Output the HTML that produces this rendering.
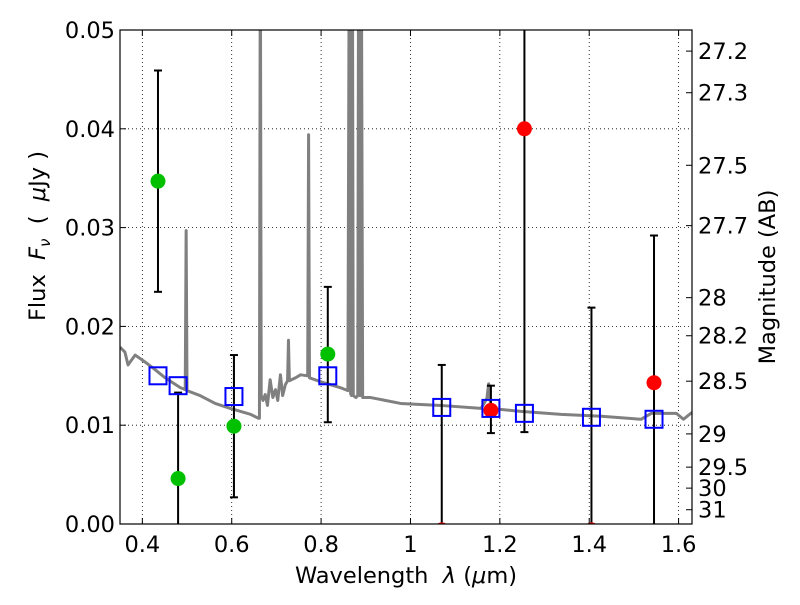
<!DOCTYPE html>
<html><head><meta charset="utf-8"><style>
body{margin:0;background:#fff}
svg text{font-family:"DejaVu Sans","Liberation Sans",sans-serif;fill:#000;white-space:pre}
</style></head><body>
<svg id="c" width="800" height="600" xmlns="http://www.w3.org/2000/svg"></svg>
<script>
const specWl=[0.35,0.361,0.368,0.384,0.406,0.429,0.451,0.485,0.496,0.498,0.500,0.529,0.563,0.597,0.642,0.660,0.662,0.664,0.666,0.670,0.675,0.680,0.686,0.692,0.698,0.703,0.709,0.714,0.720,0.725,0.727,0.729,0.743,0.754,0.770,0.772,0.774,0.799,0.843,0.860,0.863,0.866,0.868,0.870,0.872,0.878,0.882,0.884,0.887,0.890,0.893,0.911,0.978,1.068,1.158,1.171,1.175,1.180,1.247,1.337,1.427,1.516,1.539,1.595,1.611,1.63];
const specFlux=[0.0179,0.0174,0.0161,0.0171,0.0164,0.0156,0.0148,0.0138,0.0136,0.0297,0.0135,0.0130,0.0122,0.0117,0.0111,0.0107,0.0107,0.06,0.013,0.0125,0.0131,0.0120,0.0146,0.0128,0.0136,0.0125,0.0151,0.0130,0.0141,0.0145,0.0186,0.0145,0.0148,0.0151,0.0150,0.0394,0.0148,0.0144,0.0138,0.0135,0.06,0.0132,0.013,0.06,0.013,0.0128,0.013,0.06,0.013,0.06,0.0128,0.0128,0.0122,0.0120,0.0117,0.0127,0.0142,0.0117,0.0114,0.0111,0.0109,0.0106,0.0112,0.0112,0.0106,0.0113];
const greenWl=[0.435,0.48,0.605,0.815];
const greenFlux=[0.0347,0.0046,0.0099,0.0172];
const greenLo=[0.0235,-0.01,0.0027,0.0103];
const greenHi=[0.0459,0.0133,0.0171,0.0240];
const redWl=[1.07,1.18,1.255,1.405,1.545];
const redFlux=[-0.0006,0.0115,0.040,-0.0006,0.0143];
const redLo=[-0.01,0.0092,0.0093,-0.01,-0.01];
const redHi=[0.0161,0.0140,0.06,0.0219,0.0292];
const modelWl=[0.435,0.48,0.605,0.815,1.07,1.18,1.255,1.405,1.545];
const modelFlux=[0.0150,0.0140,0.0129,0.0150,0.0118,0.0117,0.0112,0.0108,0.0106];
const xTicks=[0.4,0.6,0.8,1.0,1.2,1.4,1.6];
const xTickLabels=["0.4","0.6","0.8","1","1.2","1.4","1.6"];
const yTicks=[0,0.01,0.02,0.03,0.04,0.05];
const yTickLabels=["0.00","0.01","0.02","0.03","0.04","0.05"];
const magTicks=[27.2,27.3,27.5,27.7,28,28.2,28.5,29,29.5,30,31];

const L=120,R=692,T=30,B=524,X0=0.35,X1=1.63,Y0=0,Y1=0.05;
const sx=v=>L+(v-X0)/(X1-X0)*(R-L);
const sy=v=>B-(v-Y0)/(Y1-Y0)*(B-T);
const svg=document.getElementById('c');
const NS='http://www.w3.org/2000/svg';
function mk(tag,at,parent){const e=document.createElementNS(NS,tag);for(const k in at)e.setAttribute(k,at[k]);(parent||svg).appendChild(e);return e;}

const defs=mk('defs',{});const cp=mk('clipPath',{id:'clip'},defs);mk('rect',{x:L,y:T,width:R-L,height:B-T},cp);

xTicks.forEach(v=>{const g=mk('line',{x1:sx(v),x2:sx(v),y1:T,y2:B,stroke:'#000','stroke-width':0.8,'stroke-dasharray':'1,3'});

});
yTicks.forEach(v=>{const g=mk('line',{x1:L,x2:R,y1:sy(v),y2:sy(v),stroke:'#000','stroke-width':0.8,'stroke-dasharray':'1,3'});

});

const plot=mk('g',{'clip-path':'url(#clip)'});
const sp=mk('polyline',{points:specWl.map((w,i)=>sx(w)+','+sy(specFlux[i])).join(' '),fill:'none',stroke:'#808080','stroke-width':3,'stroke-linejoin':'round'},plot);



function errbar(w,lo,hi,name){const x=sx(w);
const l=mk('line',{x1:x,x2:x,y1:sy(lo),y2:sy(hi),stroke:'#000','stroke-width':2},plot);


[lo,hi].forEach(v=>{if(v>=Y0&&v<=Y1){const c=mk('line',{x1:x-4,x2:x+4,y1:sy(v),y2:sy(v),stroke:'#000','stroke-width':2},plot);

}});}
greenWl.forEach((w,i)=>errbar(w,greenLo[i],greenHi[i],'green-error-bar'));
redWl.forEach((w,i)=>errbar(w,redLo[i],redHi[i],'red-error-bar'));
greenWl.forEach((w,i)=>{const c=mk('circle',{cx:sx(w),cy:sy(greenFlux[i]),r:7.5,fill:'#00c000'},plot);

});
redWl.forEach((w,i)=>{const c=mk('circle',{cx:sx(w),cy:sy(redFlux[i]),r:7.5,fill:'#ff0000'},plot);

});
modelWl.forEach((w,i)=>{const r=mk('rect',{x:sx(w)-8.5,y:sy(modelFlux[i])-8.5,width:17,height:17,fill:'none',stroke:'#0000ff','stroke-width':2},plot);

});

const fr=mk('rect',{x:L,y:T,width:R-L,height:B-T,fill:'none',stroke:'#000','stroke-width':1.2});



xTicks.forEach((v,i)=>{const x=sx(v);
mk('line',{x1:x,x2:x,y1:B,y2:B-6,stroke:'#000'});mk('line',{x1:x,x2:x,y1:T,y2:T+6,stroke:'#000'});
const t=mk('text',{x:x,y:B+28,'text-anchor':'middle','font-size':22.5});t.textContent=xTickLabels[i];

});
yTicks.forEach((v,i)=>{const y=sy(v);
mk('line',{x1:L,x2:L+6,y1:y,y2:y,stroke:'#000'});
const t=mk('text',{x:L-5,y:y+8,'text-anchor':'end','font-size':22.5});t.textContent=yTickLabels[i];

});
magTicks.forEach(m=>{const y=sy(Math.pow(10,(23.9-m)/2.5));
mk('line',{x1:R,x2:R-6,y1:y,y2:y,stroke:'#000'});
const t=mk('text',{x:R+6,y:y+8,'font-size':22.5});t.textContent=String(m);

});
</script>
<svg width="800" height="600" style="position:absolute;left:0;top:0" xmlns="http://www.w3.org/2000/svg">
<text x="406" y="583" text-anchor="middle" font-size="22.5">Wavelength  <tspan font-style="italic">λ</tspan> (<tspan font-style="italic">μ</tspan>m)</text>
<text transform="translate(45,236) rotate(-90)" text-anchor="middle" font-size="22.5">Flux  <tspan font-style="italic">F</tspan><tspan font-style="italic" font-size="15" dy="5">ν</tspan><tspan dy="-5">  (  </tspan><tspan font-style="italic">μ</tspan>Jy )</text>
<text transform="translate(775,277) rotate(-90)" text-anchor="middle" font-size="22.5">Magnitude (AB)</text>
</svg>
</body></html>
